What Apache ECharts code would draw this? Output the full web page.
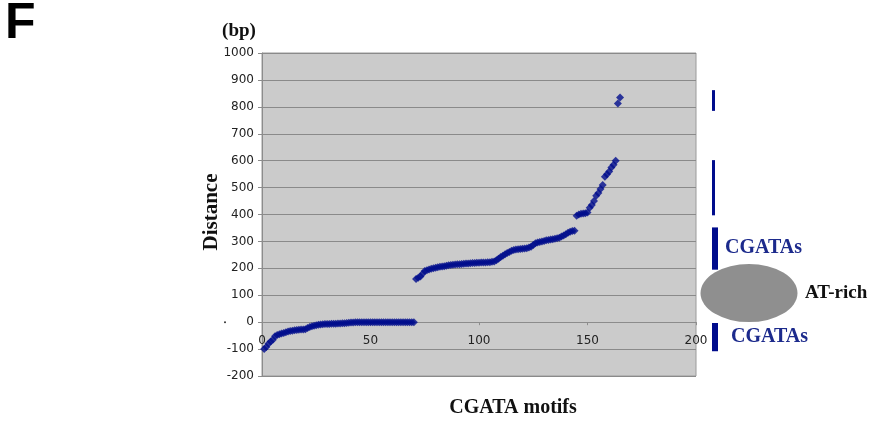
<!DOCTYPE html>
<html>
<head>
<meta charset="utf-8">
<script src="https://cdn.jsdelivr.net/npm/echarts@6/dist/echarts.min.js"></script>
<style>
html,body{margin:0;padding:0;background:#fff;}
#chart{width:872px;height:421px;}
</style>
</head>
<body>
<div id="chart"></div>
<script>
// Distance (bp) of each CGATA motif, sorted; motif number is position in list (1..n)
const segmentNear = [-100,-92,-80,-72,-65,-52,-48,-45,-42,-40,-37,-35,-33,-32,-30,-29,-28,-27,-27,-26,
  -22,-18,-15,-13,-11,-10,-9,-8,-7,-7,-7,-6,-6,-6,-5,-5,-4,-4,-3,-2,-1,-1,
  0,0,0,0,0,0,0,0,0,0,0,0,0,0,0,0,0,0,0,0,0,0,0,0,0,0,0,0];
const segmentMid = [160,165,170,180,190,193,196,198,200,202,204,206,207,208,210,211,212,213,214,215,
  215,216,217,218,218,219,220,220,221,221,222,222,222,223,223,224,225,230,236,242,
  247,252,257,261,265,268,270,271,272,273,274,275,277,280,287,293,296,298,300,302,
  304,305,307,308,310,312,314,318,322,327,332,336,339,340];
const segmentFar = [395,400,403,404,405,407,425,435,450,470,480,495,510,540,550,560,575,585,600,812,835];

const yTicks = {min:-200, max:1000, step:100};
const xTickLabels = [0, 50, 100, 150, 200];
// value spans marked by the bars on the right (bp)
const clusterSpans = [[785,862],[397,602],[195,352],[-108,-3]];
const ellipseCenterValue = 108;

const distances = segmentNear.concat(segmentMid, segmentFar);
const points = distances.map((d,i)=>[i+1,d]);

const navy = '#000c8c';
const chart = echarts.init(document.getElementById('chart'), null, {renderer:'canvas'});
const option = {
  animation:false,
  grid:{left:262,right:176,top:53,bottom:45,show:true,backgroundColor:'#cbcbcb',borderColor:'#9a9a9a',borderWidth:1},
  xAxis:{type:'value',min:xTickLabels[0],max:xTickLabels[xTickLabels.length-1],interval:xTickLabels[1]-xTickLabels[0],
    axisLine:{show:true,onZero:true,lineStyle:{color:'#8c8c8c',width:1}},
    axisTick:{show:true,length:3,lineStyle:{color:'#8c8c8c'}},
    axisLabel:{show:false},
    splitLine:{show:false}},
  yAxis:{type:'value',min:yTicks.min,max:yTicks.max,interval:yTicks.step,
    axisLine:{show:true,onZero:false,lineStyle:{color:'#8c8c8c',width:1}},
    axisTick:{show:true,length:4,lineStyle:{color:'#8c8c8c'}},
    axisLabel:{fontFamily:'DejaVu Sans',fontSize:12,color:'#222',margin:8,formatter:v=>String(v)},
    splitLine:{show:true,lineStyle:{color:'#8a8a8a',width:1}}},
  series:[{type:'scatter',data:points,symbol:'diamond',symbolSize:8,
    itemStyle:{color:navy},z:5}]
};
chart.setOption(option);

const py = v => chart.convertToPixel({yAxisIndex:0}, v);
const px = v => chart.convertToPixel({xAxisIndex:0}, v);
const serif = '"Liberation Serif","DejaVu Serif",serif';
const barX = [712, 712, 712, 712];
const barW = [3, 3, 6, 6];
const graphics = [];
xTickLabels.forEach(t=>{
  graphics.push({type:'text',x:px(t),y:py(0)+19,z:10,style:{text:String(t),font:'12px "DejaVu Sans"',fill:'#222',align:'center',verticalAlign:'middle'}});
});
clusterSpans.forEach((s,k)=>{
  const y1 = py(s[1]), y0 = py(s[0]);
  graphics.push({type:'rect',shape:{x:barX[k],y:y1,width:barW[k],height:y0-y1},style:{fill:navy}});
});
graphics.push({type:'circle',x:749,y:py(ellipseCenterValue),scaleX:48.5/29,shape:{cx:0,cy:0,r:29},style:{fill:'#8f8f8f'}});
graphics.push({type:'text',x:725,y:py(275),style:{text:'CGATAs',font:'bold 20px '+serif,fill:'#1c2a8c',verticalAlign:'middle'}});
graphics.push({type:'text',x:731,y:py(-55),style:{text:'CGATAs',font:'bold 20px '+serif,fill:'#1c2a8c',verticalAlign:'middle'}});
graphics.push({type:'text',x:805,y:py(ellipseCenterValue),style:{text:'AT-rich',font:'bold 19px '+serif,fill:'#111',verticalAlign:'middle'}});
graphics.push({type:'text',x:239,y:31,style:{text:'(bp)',font:'bold 19px '+serif,fill:'#111',align:'center',verticalAlign:'middle'}});
graphics.push({type:'text',x:212,y:212,rotation:Math.PI/2,style:{text:'Distance',font:'bold 21px '+serif,fill:'#111',align:'center',verticalAlign:'middle'}});
graphics.push({type:'text',x:513,y:408,style:{text:'CGATA motifs',font:'bold 20px '+serif,fill:'#111',align:'center',verticalAlign:'middle'}});
graphics.push({type:'text',x:5,y:24,style:{text:'F',font:'bold 50px "Liberation Sans",Arial,sans-serif',fill:'#000',verticalAlign:'middle'}});
graphics.push({type:'circle',shape:{cx:225,cy:py(0),r:1},style:{fill:'#333'}});
chart.setOption({graphic:graphics});
</script>
</body>
</html>
